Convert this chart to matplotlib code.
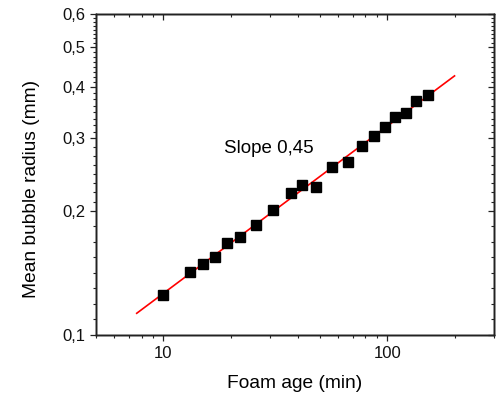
import matplotlib
matplotlib.use('Agg')
import matplotlib.pyplot as plt
import numpy as np
from matplotlib.ticker import FixedLocator, FixedFormatter, NullFormatter, LogLocator

plt.rcParams['font.family'] = ['Liberation Sans', 'DejaVu Sans']

# foam age (min) and mean bubble radius (mm)
age = [10.0, 13.1, 15.0, 17.0, 19.2, 22.0, 26.0, 30.9, 37.0, 41.8,
       48.1, 56.7, 66.8, 76.9, 86.9, 98.0, 108.6, 121.6, 135.2, 151.9]
radius = [0.125, 0.142, 0.1485, 0.1546, 0.1673, 0.173, 0.1844, 0.2008, 0.2208, 0.2305,
          0.2284, 0.2553, 0.2625, 0.2875, 0.303, 0.3193, 0.3372, 0.3459, 0.370, 0.3818]

# fitted power law, end points
fit_x = [7.6, 200.0]
fit_y = [0.1127, 0.4246]

y_ticks = [0.1, 0.2, 0.3, 0.4, 0.5, 0.6]
y_labels = ['0,1', '0,2', '0,3', '0,4', '0,5', '0,6']
x_ticks = [10, 100]
x_labels = ['10', '100']

fig = plt.figure(figsize=(5.03, 3.99), dpi=100)
ax = fig.add_axes([0.1909, 0.1612, 0.7911, 0.8037])

ax.plot(fit_x, fit_y, color='#ff0000', lw=1.2, zorder=2)
ax.plot(age, radius, 's', color='black', ms=6.5, zorder=3)

ax.text(29.6, 0.283, 'Slope 0,45', fontsize=13.5, ha='center', va='center')

# 7 minor ticks, evenly spaced in log, between majors
ym = []
for a, b in zip(y_ticks[:-1], y_ticks[1:]):
    ym.extend(np.geomspace(a, b, 9)[1:-1])


def set_x(axis, labels):
    axis.set_major_locator(FixedLocator(x_ticks))
    axis.set_minor_locator(LogLocator(base=10, subs=np.arange(2, 10)))
    axis.set_minor_formatter(NullFormatter())
    axis.set_major_formatter(FixedFormatter(x_labels) if labels else NullFormatter())


def set_y(axis, labels):
    axis.set_major_locator(FixedLocator(y_ticks))
    axis.set_minor_locator(FixedLocator(ym))
    axis.set_minor_formatter(NullFormatter())
    axis.set_major_formatter(FixedFormatter(y_labels) if labels else NullFormatter())


def tick_style(a, direction, **sides):
    a.tick_params(which='both', direction=direction, colors='#222222',
                  labelcolor='#111111', labelsize=12, **sides)
    a.tick_params(which='major', length=4.3, width=0.9)
    a.tick_params(which='minor', length=2.5, width=0.8)


ax.set_xscale('log')
ax.set_yscale('log')
ax.set_xlim(5, 300)
ax.set_ylim(0.1, 0.6)
set_x(ax.xaxis, True)
set_y(ax.yaxis, True)
tick_style(ax, 'out', top=False, right=False)

# top axis, inward ticks
ax_t = ax.twiny()
ax_t.set_xscale('log')
ax_t.set_xlim(5, 300)
set_x(ax_t.xaxis, False)
tick_style(ax_t, 'in', top=True, bottom=False, left=False, right=False)

# right axis, inward ticks
ax_r = ax.twinx()
ax_r.set_yscale('log')
ax_r.set_ylim(0.1, 0.6)
set_y(ax_r.yaxis, False)
tick_style(ax_r, 'in', right=True, left=False, top=False, bottom=False)

for a in (ax, ax_t, ax_r):
    for s in a.spines.values():
        s.set_linewidth(1.0)
        s.set_color('#222222')

ax.set_xlabel('Foam age (min)', fontsize=13.8, labelpad=10.5)
ax.set_ylabel('Mean bubble radius (mm)', fontsize=13.8)
ax.yaxis.set_label_coords(-0.142, 0.455)

fig.savefig('out.png', dpi=100)
